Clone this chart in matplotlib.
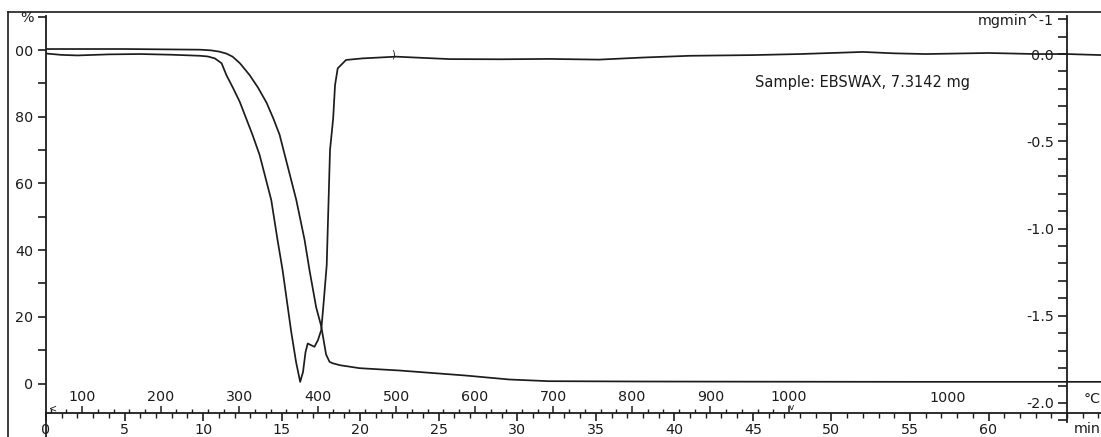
import matplotlib
matplotlib.use("Agg")
import matplotlib.pyplot as plt
from matplotlib.ticker import FixedLocator, FixedFormatter, MultipleLocator
from matplotlib.lines import Line2D

# ---- data
tg_time = [0, 5, 9.8, 10.5, 11.05, 11.5, 11.88, 12.35, 12.96, 13.5, 14.04, 14.47, 14.87,
           15.93, 16.46, 16.77, 17.2, 17.52, 17.83, 18.05, 18.23, 18.7, 19.95, 22.5, 26.7,
           29.5, 32, 38, 45, 55, 67.2]
tg_pct = [100.3, 100.3, 100.1, 99.9, 99.5, 98.9, 98.0, 96.0, 92.5, 88.7, 84.2, 79.5, 74.6,
          55.1, 43.1, 34.1, 22.8, 17.2, 8.7, 6.5, 6.1, 5.5, 4.6, 3.9, 2.4,
          1.2, 0.7, 0.6, 0.55, 0.5, 0.5]

dtg_time = [0, 1, 2, 4, 6, 8, 9.8, 10.3, 10.75, 11.18, 11.48, 11.92, 12.33, 13.15, 13.6,
            14.34, 14.74, 15.06, 15.61, 15.92, 16.18, 16.36, 16.52, 16.66, 16.86, 17.09,
            17.31, 17.52, 17.66, 17.87, 18.08, 18.28, 18.4, 18.57, 19.1, 20.14, 22.28,
            25.7, 29, 32, 35.2, 38, 41, 45, 48, 52, 54, 56, 60, 63, 65, 67.2]
dtg_val = [0.003, -0.005, -0.008, -0.002, 0.0, -0.004, -0.01, -0.014, -0.025, -0.053,
           -0.12, -0.197, -0.273, -0.464, -0.579, -0.837, -1.066, -1.238, -1.592, -1.766,
           -1.879, -1.823, -1.709, -1.659, -1.668, -1.678, -1.64, -1.583, -1.44, -1.21,
           -0.55, -0.37, -0.178, -0.082, -0.034, -0.025, -0.015, -0.029, -0.03, -0.028,
           -0.032, -0.02, -0.01, -0.006, 0.0, 0.012, 0.004, 0.0, 0.006, 0.0, 0.0, -0.006]

time_ticks = [0, 5, 10, 15, 20, 25, 30, 35, 40, 45, 50, 55, 60]
temp_ticks = [100, 200, 300, 400, 500, 600, 700, 800, 900, 1000]
T0, rate = 54.0, 20.0          # start temperature, heating rate (C/min)
t_end_heat = (1000 - T0) / rate
iso_label_time = 57.4

tg_ticks = [0, 20, 40, 60, 80, 100, 110]
tg_labels = ["0", "20", "40", "60", "80", "00", "%"]
dtg_ticks = [-2.0, -1.5, -1.0, -0.5, 0.0, 0.2]
dtg_labels = ["-2.0", "-1.5", "-1.0", "-0.5", "0.0", "mgmin^-1"]

sample_text = "Sample: EBSWAX, 7.3142 mg"

# ---- layout (pixel based)
W, H = 1101, 437
ink = "#1c1c1c"
plt.rcParams["font.family"] = ["DejaVu Sans"]
plt.rcParams["font.size"] = 10.3
plt.rcParams["text.color"] = ink
plt.rcParams["xtick.color"] = ink
plt.rcParams["ytick.color"] = ink

fig = plt.figure(figsize=(W / 100, H / 100), dpi=100)
ax = fig.add_axes([46 / W, 0, (W - 46) / W, (H - 16) / H])
ax.patch.set_visible(False)

ymin, ymax = -16.04, 110.2
ax.set_ylim(ymin, ymax)
ax.set_xlim(0, 67.16)
axis_y = -8.85

for s in ["top", "right"]:
    ax.spines[s].set_visible(False)
ax.spines["left"].set_linewidth(1.3)
ax.spines["left"].set_color(ink)
ax.spines["bottom"].set_position(("data", axis_y))
ax.spines["bottom"].set_linewidth(1.3)
ax.spines["bottom"].set_color(ink)

ax.yaxis.set_major_locator(FixedLocator(tg_ticks))
ax.yaxis.set_major_formatter(FixedFormatter(tg_labels))
ax.yaxis.set_minor_locator(FixedLocator([10, 30, 50, 70, 90]))
ax.tick_params(axis="y", which="both", direction="out", length=6, width=1.2, pad=3)

ax.xaxis.set_major_locator(FixedLocator(time_ticks))
ax.xaxis.set_minor_locator(MultipleLocator(1))
ax.tick_params(axis="x", which="major", direction="out", length=6, width=1.2, pad=1.5)
ax.tick_params(axis="x", which="minor", direction="out", length=3.5, width=1.0)

# temperature scale sitting on top of the time axis
loc = (axis_y - ymin) / (ymax - ymin)
secax = ax.secondary_xaxis(loc, functions=(lambda t: T0 + rate * t,
                                           lambda T: (T - T0) / rate))
secax.set_alignment("top")
secax.set_xticks(temp_ticks)
secax.xaxis.set_minor_locator(FixedLocator(list(range(60, 1001, 20))))
secax.tick_params(axis="x", which="major", direction="out", length=5, width=1.1, pad=1.5)
secax.tick_params(axis="x", which="minor", direction="out", length=3, width=1.0)
for s in secax.spines.values():
    s.set_visible(False)

ax.plot(tg_time, tg_pct, color=ink, lw=1.25)

# DTG axis drawn at t = 65 min
ax2 = ax.twinx()
ax2.set_ylim(-2.195, 0.218)
for s in ["top", "right", "bottom"]:
    ax2.spines[s].set_visible(False)
ax2.spines["left"].set_position(("data", 65))
ax2.spines["left"].set_bounds(-2.11, 0.22)
ax2.spines["left"].set_linewidth(1.3)
ax2.spines["left"].set_color(ink)
ax2.yaxis.tick_left()
ax2.yaxis.set_major_locator(FixedLocator(dtg_ticks))
ax2.yaxis.set_major_formatter(FixedFormatter(dtg_labels))
ax2.yaxis.set_minor_locator(FixedLocator([v / 10 for v in range(-21, 2)]))
ax2.tick_params(axis="y", which="both", direction="out", length=6.5, width=1.2, pad=3)

ax2.plot(dtg_time, dtg_val, color=ink, lw=1.25)

# annotations
ax2.text(0.672, 0.843, sample_text, transform=ax.transAxes, fontsize=10.5, va="center")
ax.text(iso_label_time, -4.4, "1000", ha="center", va="center")
ax.text(0.9995, 0.018, "min", transform=ax.transAxes, ha="right", va="center")
ax.text(0.9995, 0.09, "\u00b0C", transform=ax.transAxes, ha="right", va="center")
ax2.text(22.1, 0.0, ")", ha="center", va="center", fontsize=7)
ax.text(0.2, -7.6, "<", ha="left", va="center", fontsize=7)
ax.text(t_end_heat + 0.15, axis_y + 0.2, "v", ha="center", va="bottom", fontsize=6.5)

# scanned frame
fig.add_artist(Line2D([8 / W, 8 / W], [0, 1 - 12 / H], color=ink, lw=1.2))
fig.add_artist(Line2D([8 / W, 1], [1 - 12 / H, 1 - 12 / H], color=ink, lw=1.2))

fig.savefig("out.png", dpi=100)
